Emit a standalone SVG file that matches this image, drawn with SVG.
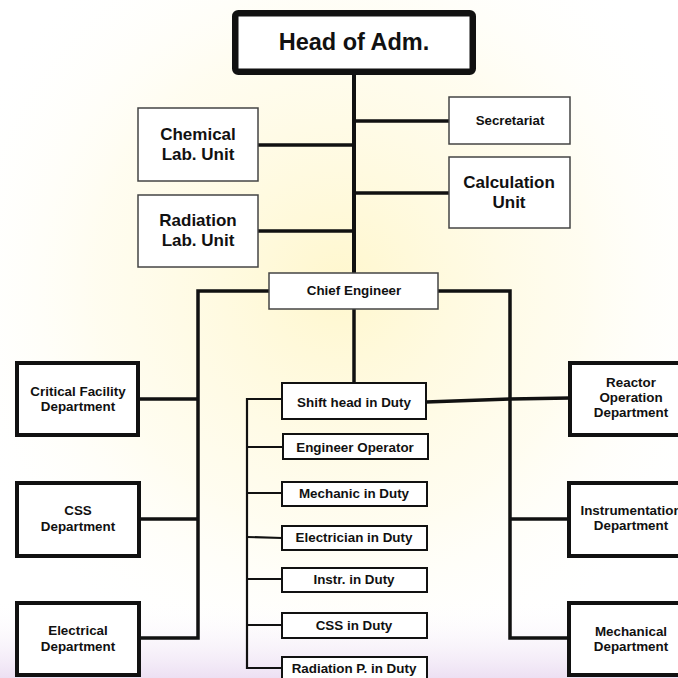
<svg xmlns="http://www.w3.org/2000/svg" width="678" height="678" viewBox="0 0 678 678">
<defs>
<radialGradient id="glow" cx="0.5" cy="0.42" r="0.6">
<stop offset="0" stop-color="#fff6c8" stop-opacity="0.9"/>
<stop offset="0.6" stop-color="#fffbe6" stop-opacity="0.6"/>
<stop offset="1" stop-color="#ffffff" stop-opacity="0"/>
</radialGradient>
<linearGradient id="bottom" x1="0" y1="0" x2="0" y2="1">
<stop offset="0" stop-color="#ffffff" stop-opacity="0"/>
<stop offset="1" stop-color="#e8d8f0" stop-opacity="0.8"/>
</linearGradient>
<style>
text{font-family:"Liberation Sans",Arial,sans-serif;font-weight:bold;fill:#111;text-anchor:middle}
.thin{fill:#fff;stroke:#444;stroke-width:1.5}
.duty{fill:#fff;stroke:#111;stroke-width:2}
.dept{fill:#fff;stroke:#111;stroke-width:4}
.head{fill:#fff;stroke:#111;stroke-width:6.5}
.c{fill:none;stroke:#111;stroke-width:3.5;stroke-linejoin:miter}
.cs{fill:none;stroke:#111;stroke-width:2.2}
.f17{font-size:17px}
.f13{font-size:13.4px}
</style>
</defs>
<rect x="0" y="0" width="678" height="678" fill="#fff"/>
<rect x="0" y="0" width="678" height="678" fill="url(#glow)"/>
<rect x="0" y="600" width="678" height="78" fill="url(#bottom)"/>

<g id="connectors">
<line class="c" x1="354" y1="75" x2="354" y2="273" style="stroke-width:4"/>
<line class="c" x1="258" y1="145" x2="354" y2="145"/>
<line class="c" x1="258" y1="231" x2="354" y2="231"/>
<line class="c" x1="354" y1="121" x2="449" y2="121"/>
<line class="c" x1="354" y1="193" x2="449" y2="193"/>
<polyline class="c" points="269,291 198,291 198,638 139,638"/>
<line class="c" x1="139" y1="399" x2="198" y2="399"/>
<line class="c" x1="139" y1="519" x2="198" y2="519"/>
<polyline class="c" points="438,291 510,291 510,638 569,638"/>
<line class="c" x1="510" y1="519" x2="569" y2="519"/>
<polyline class="c" points="426,402 510,399 570,398"/>
<line class="c" x1="354" y1="309" x2="354" y2="383"/>
<polyline class="cs" points="282,399 247,399 247,668 282,668"/>
<line class="cs" x1="247" y1="447" x2="283" y2="447"/>
<line class="cs" x1="247" y1="493" x2="282" y2="493"/>
<line class="cs" x1="247" y1="537" x2="282" y2="538"/>
<line class="cs" x1="247" y1="579" x2="282" y2="579"/>
<line class="cs" x1="247" y1="625" x2="282" y2="625"/>
</g>

<g id="head">
<rect class="head" x="235.25" y="13.25" width="237.5" height="58.5" rx="3"/>
<text x="354" y="50" style="font-size:23.5px">Head of Adm.</text>
</g>
<g id="chemical">
<rect class="thin" x="138" y="108" width="120" height="73"/>
<text class="f17" x="198" y="140">Chemical</text>
<text class="f17" x="198" y="160">Lab. Unit</text>
</g>
<g id="radiation-lab">
<rect class="thin" x="138" y="195" width="120" height="72"/>
<text class="f17" x="198" y="226">Radiation</text>
<text class="f17" x="198" y="246">Lab. Unit</text>
</g>
<g id="secretariat">
<rect class="thin" x="449" y="97" width="121" height="47"/>
<text x="510" y="125" style="font-size:13.3px">Secretariat</text>
</g>
<g id="calculation">
<rect class="thin" x="449" y="157" width="121" height="71"/>
<text class="f17" x="509" y="188">Calculation</text>
<text class="f17" x="509" y="208">Unit</text>
</g>
<g id="chief">
<rect class="thin" x="269" y="273" width="169" height="36"/>
<text class="f13" x="354" y="295">Chief Engineer</text>
</g>
<g id="shift-head">
<rect class="duty" x="282" y="383" width="144" height="36"/>
<text class="f13" x="354" y="407">Shift head in Duty</text>
</g>
<g id="engineer-operator">
<rect class="duty" x="283" y="434" width="145" height="25"/>
<text class="f13" x="355" y="452">Engineer Operator</text>
</g>
<g id="mechanic-duty">
<rect class="duty" x="282" y="482" width="145" height="24"/>
<text class="f13" x="354" y="498">Mechanic in Duty</text>
</g>
<g id="electrician-duty">
<rect class="duty" x="282" y="526" width="145" height="24"/>
<text class="f13" x="354" y="542">Electrician in Duty</text>
</g>
<g id="instr-duty">
<rect class="duty" x="282" y="568" width="145" height="24"/>
<text class="f13" x="354" y="584">Instr. in Duty</text>
</g>
<g id="css-duty">
<rect class="duty" x="282" y="613" width="145" height="25"/>
<text class="f13" x="354" y="630">CSS in Duty</text>
</g>
<g id="radiation-duty">
<rect class="duty" x="282" y="657" width="145" height="24"/>
<text class="f13" x="354" y="673">Radiation P. in Duty</text>
</g>
<g id="critical-facility">
<rect class="dept" x="17" y="363" width="121" height="72"/>
<text class="f13" x="78" y="396">Critical Facility</text>
<text class="f13" x="78" y="411">Department</text>
</g>
<g id="css-dept">
<rect class="dept" x="17" y="483" width="122" height="73"/>
<text class="f13" x="78" y="515">CSS</text>
<text class="f13" x="78" y="531">Department</text>
</g>
<g id="electrical-dept">
<rect class="dept" x="17" y="603" width="122" height="72"/>
<text class="f13" x="78" y="635">Electrical</text>
<text class="f13" x="78" y="651">Department</text>
</g>
<g id="reactor-operation">
<rect class="dept" x="570" y="363" width="130" height="72"/>
<text class="f13" x="631" y="387">Reactor</text>
<text class="f13" x="631" y="402">Operation</text>
<text class="f13" x="631" y="417">Department</text>
</g>
<g id="instrumentation">
<rect class="dept" x="569" y="483" width="130" height="73"/>
<text class="f13" x="631" y="515">Instrumentation</text>
<text class="f13" x="631" y="530">Department</text>
</g>
<g id="mechanical">
<rect class="dept" x="569" y="603" width="130" height="72"/>
<text class="f13" x="631" y="636">Mechanical</text>
<text class="f13" x="631" y="651">Department</text>
</g>
</svg>
